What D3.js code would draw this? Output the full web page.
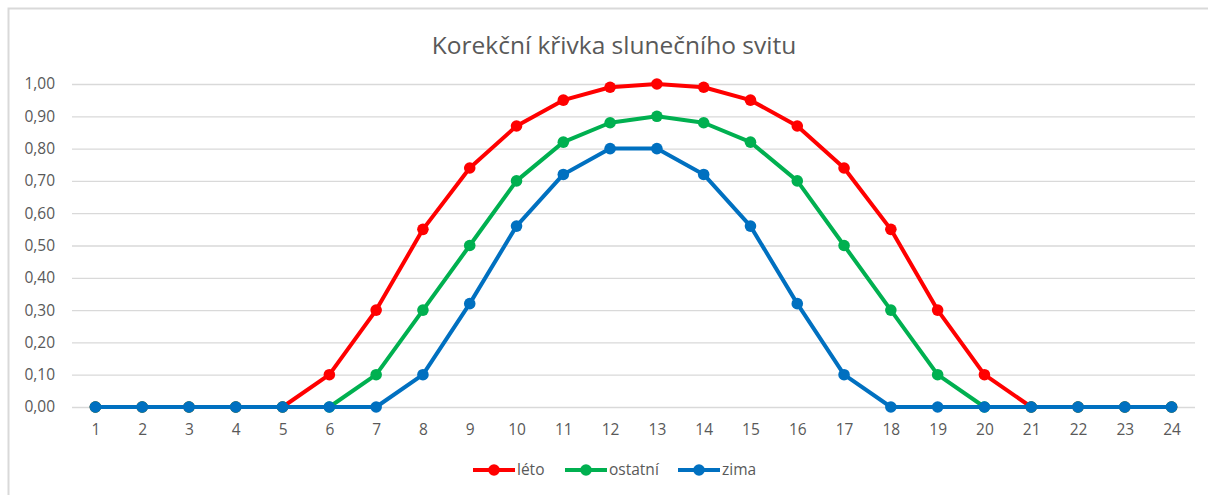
<!DOCTYPE html>
<html>
<head>
<meta charset="utf-8">
<script src="https://cdn.jsdelivr.net/npm/d3@7"></script>
<style>
  body { margin: 0; background: #fff; }
  svg { display: block; }
</style>
</head>
<body>
<svg id="chart"></svg>
<script>
// hours of the day
const hours = d3.range(1, 25).map(String);
const yTicks = [0, 0.1, 0.2, 0.3, 0.4, 0.5, 0.6, 0.7, 0.8, 0.9, 1.0];

const leto =    [0, 0, 0, 0, 0, 0.1, 0.3, 0.55, 0.74, 0.87, 0.95, 0.99, 1.0, 0.99, 0.95, 0.87, 0.74, 0.55, 0.3, 0.1, 0, 0, 0, 0];
const ostatni = [0, 0, 0, 0, 0, 0, 0.1, 0.3, 0.5, 0.7, 0.82, 0.88, 0.9, 0.88, 0.82, 0.7, 0.5, 0.3, 0.1, 0, 0, 0, 0, 0];
const zima =    [0, 0, 0, 0, 0, 0, 0, 0.1, 0.32, 0.56, 0.72, 0.8, 0.8, 0.72, 0.56, 0.32, 0.1, 0, 0, 0, 0, 0, 0, 0];

const seriesNames = ["léto", "ostatní", "zima"];
const seriesColors = ["#FF0000", "#00B050", "#0070C0"];
const seriesValues = [leto, ostatni, zima];

const width = 1208, height = 495;
const margin = { top: 84, right: 13, bottom: 88, left: 72 };
const plotW = width - margin.left - margin.right,
      plotH = height - margin.top - margin.bottom;

const svg = d3.select("#chart")
    .attr("width", width)
    .attr("height", height)
    .style("font-family", "'Open Sans', sans-serif");

// chart frame
svg.append("path")
    .attr("d", `M8.5,${height} V8.5 H${width}`)
    .attr("fill", "none")
    .attr("stroke", "#d9d9d9")
    .attr("stroke-width", 2);

svg.append("text")
    .attr("x", 614)
    .attr("y", 54)
    .attr("text-anchor", "middle")
    .style("font-size", "24.5px")
    .style("fill", "#595959")
    .text("Korekční křivka slunečního svitu");

const g = svg.append("g")
    .attr("transform", `translate(${margin.left}, ${margin.top})`);

const x = d3.scalePoint()
    .domain(hours)
    .range([0, plotW])
    .padding(0.5);

const y = d3.scaleLinear()
    .domain([0, 1])
    .range([plotH, 0]);

const fmt = d => d3.format(".2f")(d).replace(".", ",");

// gridlines + y labels
const yAxis = g.append("g")
    .call(d3.axisLeft(y).tickValues(yTicks).tickSize(-plotW).tickFormat(fmt));
yAxis.select(".domain").remove();
yAxis.selectAll(".tick line").attr("stroke", "#d9d9d9").attr("stroke-width", 1.3);
yAxis.selectAll(".tick text")
    .attr("x", -17)
    .style("font-size", "15.5px")
    .style("font-family", "'Open Sans', sans-serif")
    .style("fill", "#595959");

// x labels
const xAxis = g.append("g")
    .attr("transform", `translate(0, ${plotH})`)
    .call(d3.axisBottom(x).tickSize(0));
xAxis.select(".domain").remove();
xAxis.selectAll(".tick text")
    .attr("y", 17)
    .style("font-size", "15.5px")
    .style("font-family", "'Open Sans', sans-serif")
    .style("fill", "#595959");

const line = d3.line()
    .x((d, i) => x(hours[i]))
    .y(d => y(d));

seriesValues.forEach((vals, s) => {
    g.append("path")
        .datum(vals)
        .attr("fill", "none")
        .attr("stroke", seriesColors[s])
        .attr("stroke-width", 4)
        .attr("stroke-linejoin", "round")
        .attr("d", line);

    g.selectAll(".pt" + s)
        .data(vals)
        .enter().append("circle")
        .attr("cx", (d, i) => x(hours[i]))
        .attr("cy", d => y(d))
        .attr("r", 5.8)
        .attr("fill", seriesColors[s]);
});

// legend
const legendX = [473, 565, 678];
const legend = svg.append("g");
seriesNames.forEach((name, s) => {
    const lg = legend.append("g").attr("transform", `translate(${legendX[s]}, 470)`);
    lg.append("line")
        .attr("x1", 0).attr("x2", 42)
        .attr("stroke", seriesColors[s])
        .attr("stroke-width", 4);
    lg.append("circle")
        .attr("cx", 21).attr("r", 5.8)
        .attr("fill", seriesColors[s]);
    lg.append("text")
        .attr("x", 44)
        .attr("dy", "0.35em")
        .style("font-size", "15.5px")
        .style("fill", "#595959")
        .text(name);
});
</script>
</body>
</html>
